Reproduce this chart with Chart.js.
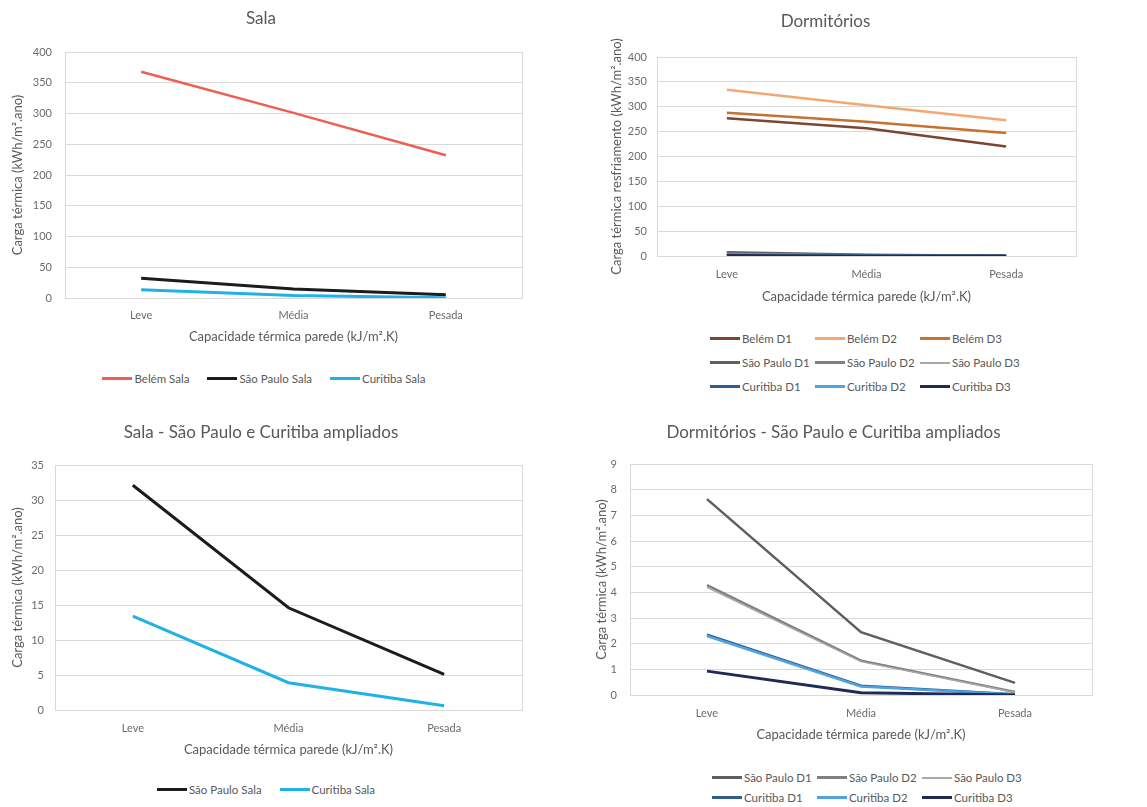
<!DOCTYPE html>
<html>
<head>
<meta charset="utf-8">
<script src="https://cdn.jsdelivr.net/npm/chart.js@4.4.1/dist/chart.umd.min.js"></script>
<style>
  body { margin: 0; background: #fff; width: 1147px; height: 807px; position: relative; overflow: hidden; font-family: Lato, "Open Sans", sans-serif; }
  .box { position: absolute; }
  .legend { position: absolute; color: #595959; font-size: 11.5px; }
  .legend .row { display: flex; align-items: center; height: 13px; }
  .legend.center .row { justify-content: center; }
  .legend .item { display: flex; align-items: center; white-space: nowrap; }
  .legend.center .item { margin: 0 9px; }
  .legend.grid .item { width: 105px; }
  .legend .swatch { display: inline-block; width: 30px; margin-right: 2px; }
</style>
</head>
<body>
<div class="box" id="box1" style="left:0;top:0;width:528px;height:350px"><canvas id="salaChart"></canvas></div>
<div class="box" id="box2" style="left:575px;top:0;width:530px;height:310px"><canvas id="dormChart"></canvas></div>
<div class="box" id="box3" style="left:0;top:410px;width:532px;height:353px"><canvas id="salaZoomChart"></canvas></div>
<div class="box" id="box4" style="left:575px;top:410px;width:534px;height:338px"><canvas id="dormZoomChart"></canvas></div>
<div class="legend center" id="legend1" style="left:0;top:372px;width:528px"></div>
<div class="legend grid" id="legend2" style="left:710px;top:332px;width:330px"></div>
<div class="legend center" id="legend3" style="left:0;top:783px;width:532px"></div>
<div class="legend grid" id="legend4" style="left:712px;top:771px;width:330px"></div>
<script>
const categories = ['Leve', 'Média', 'Pesada'];

// Sala (kWh/m².ano)
const belemSala = [368, 301, 232];
const saoPauloSala = [32.1, 14.6, 5.1];
const curitibaSala = [13.4, 3.9, 0.6];

// Dormitórios
const belemD1 = [277, 257, 220];
const belemD2 = [334, 303, 273];
const belemD3 = [288, 270, 247];
const saoPauloD1 = [7.63, 2.45, 0.47];
const saoPauloD2 = [4.28, 1.34, 0.12];
const saoPauloD3 = [4.2, 1.3, 0.1];
const curitibaD1 = [2.35, 0.36, 0.03];
const curitibaD2 = [2.3, 0.33, 0.02];
const curitibaD3 = [0.93, 0.09, 0.0];

const xTitle = 'Capacidade térmica parede (kJ/m².K)';
const textColor = '#595959';
const gridColor = '#d9d9d9';

Chart.defaults.font.family = 'Lato, "Open Sans", sans-serif';
Chart.defaults.color = textColor;

const plotBorder = {
  id: 'plotBorder',
  beforeDatasetsDraw(chart) {
    const { ctx, chartArea: a } = chart;
    ctx.save();
    ctx.strokeStyle = gridColor;
    ctx.lineWidth = 1;
    ctx.strokeRect(Math.round(a.left) + 0.5, Math.round(a.top) + 0.5, Math.round(a.right - a.left), Math.round(a.bottom - a.top));
    ctx.restore();
  },
};

// later series are painted on top, like the spreadsheet does
const line = (label, data, color, width, idx) => ({
  label: label,
  data: data,
  borderColor: color,
  backgroundColor: color,
  borderWidth: width || 2.5,
  pointRadius: 0,
  tension: 0,
  fill: false,
  order: -(idx || 0),
});

const makeChart = (id, g) => {
  const el = document.getElementById(id);
  return new Chart(el, {
    type: 'line',
    plugins: [plotBorder],
    data: { labels: categories, datasets: g.datasets },
    options: {
      responsive: true,
      maintainAspectRatio: false,
      animation: false,
      layout: { padding: { left: 0, right: g.padRight, top: 0, bottom: 0 } },
      plugins: {
        legend: { display: false },
        tooltip: { enabled: false },
        title: {
          display: true,
          text: g.title,
          color: textColor,
          font: { size: 17, weight: 'normal' },
          padding: { top: g.titleTop, bottom: g.titleBottom },
        },
      },
      scales: {
        x: {
          offset: true,
          grid: { display: false, drawTicks: false },
          border: { display: true, color: gridColor },
          ticks: { color: '#6b6b6b', font: { size: 11 }, padding: g.xTickPad },
          title: { display: true, text: xTitle, color: textColor, font: { size: 13 }, padding: { top: 0, bottom: 5.2 } },
          afterFit: (scale) => { scale.height = g.xHeight; },
        },
        y: {
          min: 0,
          max: g.yMax,
          grid: { color: gridColor, drawTicks: false },
          border: { display: true, color: gridColor },
          ticks: { stepSize: g.yStep, color: '#6b6b6b', font: { size: 11 }, padding: g.yTickPad },
          title: { display: true, text: g.yTitle, color: textColor, font: { size: 13 }, padding: { top: g.yTitlePad, bottom: 0 } },
          afterFit: (scale) => { scale.width = g.yWidth; },
        },
      },
    },
  });
};

const buildLegend = (id, chart, rows, gap) => {
  const holder = document.getElementById(id);
  rows.forEach((row, r) => {
    const div = document.createElement('div');
    div.className = 'row';
    if (r > 0) div.style.marginTop = gap + 'px';
    row.forEach(i => {
      const ds = chart.data.datasets[i];
      const item = document.createElement('span');
      item.className = 'item';
      const sw = document.createElement('span');
      sw.className = 'swatch';
      sw.style.background = ds.borderColor;
      sw.style.height = Math.max(2, Math.round(ds.borderWidth)) + 'px';
      item.appendChild(sw);
      item.appendChild(document.createTextNode(ds.label));
      div.appendChild(item);
    });
    holder.appendChild(div);
  });
};

const salaChart = makeChart('salaChart', {
  title: 'Sala',
  titleTop: 8.8, titleBottom: 22.8,
  padRight: 6,
  yMax: 400, yStep: 50, yWidth: 65, yTickPad: 13, yTitlePad: 10.2,
  yTitle: 'Carga térmica (kWh/m².ano)',
  xHeight: 52, xTickPad: 10.4,
  datasets: [
    line('Belém Sala', belemSala, '#ee5e52', 2.5, 0),
    line('São Paulo Sala', saoPauloSala, '#1c1c1c', 3, 1),
    line('Curitiba Sala', curitibaSala, '#1fb2e6', 3, 2),
  ],
});
buildLegend('legend1', salaChart, [[0, 1, 2]], 0);

const dormChart = makeChart('dormChart', {
  title: 'Dormitórios',
  titleTop: 11.8, titleBottom: 24.8,
  padRight: 29,
  yMax: 400, yStep: 50, yWidth: 82, yTickPad: 10, yTitlePad: 34.2,
  yTitle: 'Carga térmica resfriamento (kWh/m².ano)',
  xHeight: 54, xTickPad: 11.4,
  datasets: [
    line('Belém D1', belemD1, '#7a4631', 2.5, 0),
    line('Belém D2', belemD2, '#f4a774', 2.5, 1),
    line('Belém D3', belemD3, '#c8702f', 2.5, 2),
    line('São Paulo D1', saoPauloD1, '#5f5f5f', 2.5, 3),
    line('São Paulo D2', saoPauloD2, '#808080', 2.5, 4),
    line('São Paulo D3', saoPauloD3, '#a9a9a9', 1.5, 5),
    line('Curitiba D1', curitibaD1, '#2f5e8e', 2.5, 6),
    line('Curitiba D2', curitibaD2, '#4fa3e0', 2.5, 7),
    line('Curitiba D3', curitibaD3, '#1f2a55', 3, 8),
  ],
});
buildLegend('legend2', dormChart, [[0, 1, 2], [3, 4, 5], [6, 7, 8]], 11);

const salaZoomChart = makeChart('salaZoomChart', {
  title: 'Sala - São Paulo e Curitiba ampliados',
  titleTop: 12.8, titleBottom: 21.8,
  padRight: 10,
  yMax: 35, yStep: 5, yWidth: 55, yTickPad: 11, yTitlePad: 10.2,
  yTitle: 'Carga térmica (kWh/m².ano)',
  xHeight: 53, xTickPad: 11.4,
  datasets: [
    line('São Paulo Sala', saoPauloSala, '#1c1c1c', 3, 0),
    line('Curitiba Sala', curitibaSala, '#1fb2e6', 3, 1),
  ],
});
buildLegend('legend3', salaZoomChart, [[0, 1]], 0);

const dormZoomChart = makeChart('dormZoomChart', {
  title: 'Dormitórios - São Paulo e Curitiba ampliados',
  titleTop: 12.8, titleBottom: 20.8,
  padRight: 17,
  yMax: 9, yStep: 1, yWidth: 55, yTickPad: 13, yTitlePad: 19.2,
  yTitle: 'Carga térmica (kWh/m².ano)',
  xHeight: 53, xTickPad: 11.4,
  datasets: [
    line('São Paulo D1', saoPauloD1, '#5f5f5f', 2.5, 0),
    line('São Paulo D2', saoPauloD2, '#808080', 2.5, 1),
    line('São Paulo D3', saoPauloD3, '#a9a9a9', 1.5, 2),
    line('Curitiba D1', curitibaD1, '#2f5e8e', 2.5, 3),
    line('Curitiba D2', curitibaD2, '#4fa3e0', 2.5, 4),
    line('Curitiba D3', curitibaD3, '#1f2a55', 3, 5),
  ],
});
buildLegend('legend4', dormZoomChart, [[0, 1, 2], [3, 4, 5]], 7);
</script>
</body>
</html>
